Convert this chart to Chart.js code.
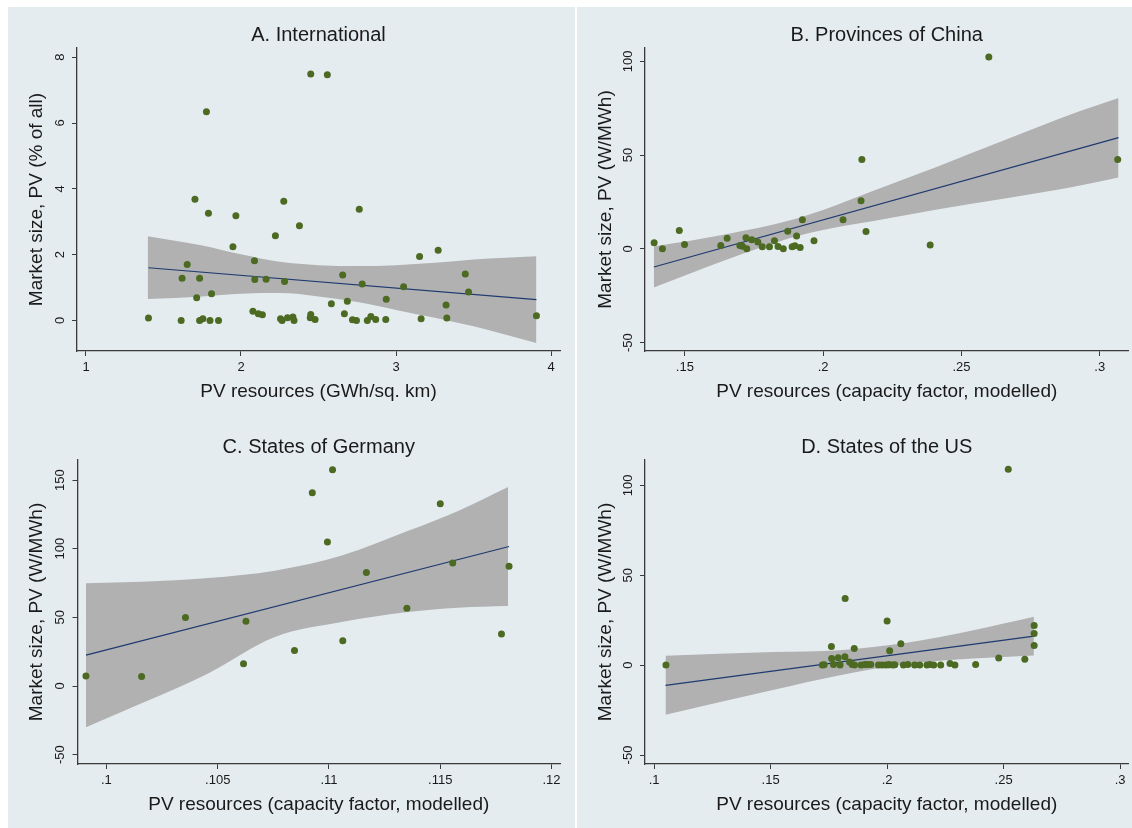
<!DOCTYPE html>
<html>
<head>
<meta charset="utf-8">
<script src="https://cdn.jsdelivr.net/npm/chart.js@4.4.1/dist/chart.umd.min.js"></script>
<style>
  html, body { margin: 0; padding: 0; background: #ffffff; }
  body { width: 1132px; height: 828px; position: relative; overflow: hidden; }
  .panel { position: absolute; background: #e5ecef; }
</style>
</head>
<body>
<div class="panel" style="left:8px;top:7px;width:567px;height:405px;"><canvas id="chartA"></canvas></div>
<div class="panel" style="left:577px;top:7px;width:555px;height:405px;"><canvas id="chartB"></canvas></div>
<div class="panel" style="left:8px;top:412px;width:567px;height:416px;"><canvas id="chartC"></canvas></div>
<div class="panel" style="left:577px;top:412px;width:555px;height:416px;"><canvas id="chartD"></canvas></div>
<script>
// A. International
var xA = [1.403, 1.614, 1.62, 1.653, 1.703, 1.714, 1.733, 1.733, 1.754, 1.777, 1.79, 1.80, 1.81, 1.855, 1.948, 1.967,
    2.077, 2.087, 2.089, 2.112, 2.138, 2.162, 2.222, 2.255, 2.265, 2.276, 2.281, 2.30, 2.335, 2.342, 2.377, 2.447,
    2.45, 2.45, 2.478, 2.557, 2.583, 2.656, 2.667, 2.686, 2.719, 2.745, 2.763, 2.782, 2.815, 2.838, 2.869, 2.937,
    2.934, 3.049, 3.152, 3.162, 3.272, 3.323, 3.328, 3.447, 3.468, 3.906];
var yA = [0.07, 0, 1.28, 1.70, 3.68, 0.69, 0, 1.28, 0.05, 6.34, 3.26, 0, 0.81, 0, 2.24, 3.18,
    0.28, 1.81, 1.24, 0.2, 0.17, 1.25, 2.57, 0.05, 0, 3.62, 1.18, 0.08, 0.1, 0, 2.88, 0.08,
    7.49, 0.18, 0.03, 7.47, 0.51, 1.38, 0.2, 0.58, 0.02, 0, 3.38, 1.11, 0, 0.12, 0.03, 0.64,
    0.03, 1.02, 1.94, 0.05, 2.13, 0.47, 0.07, 1.41, 0.86, 0.14];
var fitXA = [1.403, 3.906];
var fitYA = [1.60, 0.63];
var bandXA = [1.398, 1.75, 2.0, 2.25, 2.5, 2.75, 3.0, 3.25, 3.5, 3.906];
var bandHiA = [2.56, 2.28, 2.01, 1.78, 1.68, 1.65, 1.68, 1.75, 1.85, 1.95];
var bandLoA = [0.65, 0.73, 0.81, 0.83, 0.73, 0.56, 0.32, 0.08, -0.18, -0.69];
var xTicksA = [1, 2, 3, 4];
var yTicksA = [0, 2, 4, 6, 8];

// B. Provinces of China
var xB = [.1389, .1419, .148, .1499, .163, .1653, .1699, .1708, .1721, .1724, .1742, .1764, .178, .1806, .1824, .1837,
    .1856, .1872, .1888, .1898, .1904, .1917, .1925, .1967, .2072, .2137, .214, .2155, .2387, .2599, .3065];
var yB = [3.2, 0, 9.8, 2.3, 1.8, 5.7, 1.8, 1.4, 5.9, 0, 4.8, 3.7, 1.1, 1.1, 4.3, 1.2,
    0, 9.4, 1.1, 1.6, 6.8, 0.7, 15.5, 4.3, 15.5, 25.6, 47.7, 9.3, 2.1, 102.3, 47.7];
var fitXB = [.1388, .3068];
var fitYB = [-9.7, 59.3];
var bandXB = [.1388, .165, .1878, .2, .2177, .2417, .2657, .2897, .3068];
var bandHiB = [1.2, 7.8, 15.1, 20.7, 30.7, 44.1, 58.0, 71.8, 80.5];
var bandLoB = [-20.6, -5.8, 5.7, 10.1, 14.7, 21.1, 26.8, 32.8, 38.1];
var xTicksB = [.15, .2, .25, .3];
var yTicksB = [-50, 0, 50, 100];

// C. States of Germany
var xC = [.09908, .10158, .10355, .10616, .10627, .10845, .10925, .10993, .11016, .11062, .11168, .1135, .115, .11556, .11775, .11809];
var yC = [7.3, 6.9, 49.9, 16.2, 47.2, 25.8, 140.8, 104.8, 157.5, 33, 82.6, 56.6, 132.7, 89.6, 37.9, 87.3];
var fitXC = [.09908, .11809];
var fitYC = [22.5, 101.6];
var bandXC = [.09908, .10158, .10457, .10757, .11057, .11356, .1158, .11805];
var bandHiC = [74.9, 76, 78.7, 84, 95, 113, 127.5, 145];
var bandLoC = [-30, -12.6, 9.2, 35.7, 46.6, 53.9, 57, 58.2];
var xTicksC = [.1, .105, .11, .115, .12];
var yTicksC = [-50, 0, 50, 100, 150];

// D. States of the US
var xD = [.1051, .1722, .173, .1761, .1762, .177, .179, .1798, .1819, .182, .1839, .185, .1859, .186, .1888, .1904,
    .1916, .193, .1963, .1978, .1995, .2, .2006, .2011, .2011, .2025, .2033, .2059, .207, .2089, .2118, .214,
    .2171, .2184, .22, .223, .227, .2291, .238, .2479, .252, .2591, .2631, .2631, .2631];
var yD = [0, 0, 0.2, 10.4, 3.7, 0.4, 4.1, 0, 4.6, 37.1, 1.7, 0.4, 9.3, 0, 0, 0.4,
    0.4, 0.4, 0, 0, 0, 24.5, 0.2, 8, 0.2, 0, 0.2, 11.9, 0, 0.4, 0, 0,
    0, 0.4, 0, 0, 0.9, 0, 0.4, 3.9, 108.9, 3.3, 22.1, 17.6, 10.9];
var fitXD = [.1049, .2631];
var fitYD = [-11.3, 16.1];
var bandXD = [.1049, .151, .1798, .2084, .237, .263];
var bandHiD = [5.2, 7.3, 8.3, 12.4, 19.4, 26.9];
var bandLoD = [-27.6, -13.8, -5.6, 0.6, 3.7, 5.4];
var xTicksD = [.1, .15, .2, .25, .3];
var yTicksD = [-50, 0, 50, 100];

var POINT_COLOR = '#4c6a22';
var LINE_COLOR = '#1f3a70';
var BAND_COLOR = '#b1b1b1';
var AXIS_COLOR = '#3a3a3a';
var GRID_COLOR = '#e2ebee';
var FONT = "'Liberation Sans', Arial, sans-serif";

Chart.defaults.font.family = FONT;
Chart.defaults.color = '#1a1a1a';

function zip(xs, ys) {
    return xs.map(function(x, i) { return { x: x, y: ys[i] }; });
}

function fmtTick(v) {
    var s = String(+(+v).toFixed(4));
    return s.replace(/^0\./, '.').replace(/^-0\./, '-.');
}

function fixedTicks(list) {
    return function(axis) {
        axis.ticks = list.map(function(v) { return { value: v }; });
    };
}

function makePanel(cfg) {
    var ctx = document.getElementById(cfg.id);
    return new Chart(ctx, {
        type: 'scatter',
        data: {
            datasets: [{
                data: zip(cfg.x, cfg.y),
                backgroundColor: POINT_COLOR,
                borderColor: POINT_COLOR,
                pointRadius: 3.5,
                pointHoverRadius: 3.5,
                borderWidth: 0
            }, {
                data: zip(cfg.fitX, cfg.fitY),
                showLine: true,
                borderColor: LINE_COLOR,
                borderWidth: 1.2,
                pointRadius: 0
            }, {
                data: zip(cfg.bandX, cfg.bandHi),
                showLine: true,
                borderWidth: 0,
                borderColor: BAND_COLOR,
                backgroundColor: BAND_COLOR,
                pointRadius: 0,
                cubicInterpolationMode: 'monotone',
                fill: '+1'
            }, {
                data: zip(cfg.bandX, cfg.bandLo),
                showLine: true,
                borderWidth: 0,
                borderColor: BAND_COLOR,
                pointRadius: 0,
                cubicInterpolationMode: 'monotone',
                fill: false
            }]
        },
        options: {
            responsive: true,
            maintainAspectRatio: false,
            animation: false,
            events: [],
            layout: { padding: { left: 0, right: cfg.padRight, top: 0, bottom: 0 } },
            plugins: {
                legend: { display: false },
                tooltip: { enabled: false },
                title: {
                    display: true,
                    fullSize: false,
                    text: cfg.title,
                    color: '#1a1a1a',
                    font: { size: 20, weight: 'normal' },
                    padding: { top: cfg.titleTop, bottom: cfg.titleBottom }
                }
            },
            scales: {
                x: {
                    type: 'linear',
                    min: cfg.xMin, max: cfg.xMax,
                    afterBuildTicks: fixedTicks(cfg.xTicks),
                    afterFit: function(s) { s.height = cfg.xHeight; },
                    grid: { drawOnChartArea: false, drawTicks: true, tickLength: 5, tickColor: AXIS_COLOR },
                    border: { display: true, color: AXIS_COLOR, width: 1.3 },
                    ticks: { font: { size: 13 }, padding: 4, maxRotation: 0, color: '#1a1a1a',
                        callback: function(v) { return fmtTick(v); } },
                    title: { display: true, text: cfg.xTitle, font: { size: 19 }, color: '#1a1a1a',
                        padding: { top: 0, bottom: cfg.xTitlePad } }
                },
                y: {
                    type: 'linear',
                    min: cfg.yMin, max: cfg.yMax,
                    afterBuildTicks: fixedTicks(cfg.yTicks),
                    afterFit: function(s) { s.width = cfg.yWidth; },
                    grid: { color: GRID_COLOR, lineWidth: 1, drawTicks: true, tickLength: 5, tickColor: AXIS_COLOR },
                    border: { display: true, color: AXIS_COLOR, width: 1.3 },
                    ticks: { font: { size: 13 }, minRotation: 90, maxRotation: 90, crossAlign: 'center',
                        padding: cfg.yTickPad, color: '#1a1a1a',
                        callback: function(v) { return fmtTick(v); } },
                    title: { display: true, text: 'Market size, PV (' + cfg.yUnit + ')', font: { size: 19 }, color: '#1a1a1a',
                        padding: { top: 17, bottom: 0 } }
                }
            }
        }
    });
}

makePanel({
    id: 'chartA', title: 'A. International',
    x: xA, y: yA, fitX: fitXA, fitY: fitYA, bandX: bandXA, bandHi: bandHiA, bandLo: bandLoA,
    xTicks: xTicksA, yTicks: yTicksA, xMin: 0.942, xMax: 4.058, yMin: -0.93, yMax: 8.28,
    xTitle: 'PV resources (GWh/sq. km)', yUnit: '% of all',
    padRight: 15, titleTop: 16, titleBottom: 1, xHeight: 61, xTitlePad: 9, yWidth: 69, yTickPad: 8.4
});

makePanel({
    id: 'chartB', title: 'B. Provinces of China',
    x: xB, y: yB, fitX: fitXB, fitY: fitYB, bandX: bandXB, bandHi: bandHiB, bandLo: bandLoB,
    xTicks: xTicksB, yTicks: yTicksB, xMin: .1356, xMax: .3104, yMin: -54.5, yMax: 107.1,
    xTitle: 'PV resources (capacity factor, modelled)', yUnit: 'W/MWh',
    padRight: 3, titleTop: 16, titleBottom: 1, xHeight: 61, xTitlePad: 9, yWidth: 68, yTickPad: 1.2
});

makePanel({
    id: 'chartC', title: 'C. States of Germany',
    x: xC, y: yC, fitX: fitXC, fitY: fitYC, bandX: bandXC, bandHi: bandHiC, bandLo: bandLoC,
    xTicks: xTicksC, yTicks: yTicksC, xMin: .0987, xMax: .12038, yMin: -56.8, yMax: 164.6,
    xTitle: 'PV resources (capacity factor, modelled)', yUnit: 'W/MWh',
    padRight: 15, titleTop: 23, titleBottom: 1, xHeight: 64, xTitlePad: 11.6, yWidth: 69.5, yTickPad: 1.2
});

makePanel({
    id: 'chartD', title: 'D. States of the US',
    x: xD, y: yD, fitX: fitXD, fitY: fitYD, bandX: bandXD, bandHi: bandHiD, bandLo: bandLoD,
    xTicks: xTicksD, yTicks: yTicksD, xMin: .0961, xMax: .3036, yMin: -55, yMax: 114.1,
    xTitle: 'PV resources (capacity factor, modelled)', yUnit: 'W/MWh',
    padRight: 3, titleTop: 23, titleBottom: 1, xHeight: 64, xTitlePad: 11.6, yWidth: 68, yTickPad: 1.2
});
</script>
</body>
</html>
